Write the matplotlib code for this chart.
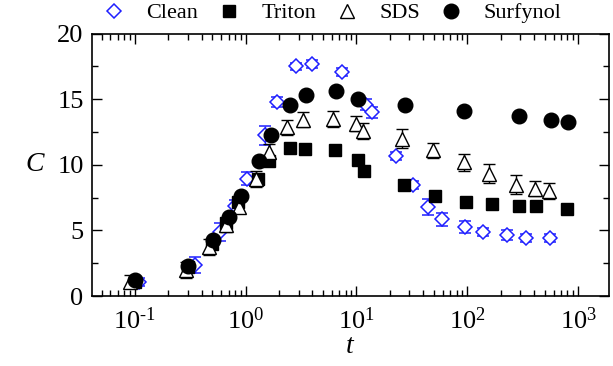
import numpy as np
import matplotlib
matplotlib.use("Agg")
import matplotlib.pyplot as plt
from matplotlib.lines import Line2D
from matplotlib.ticker import MultipleLocator, LogLocator, NullFormatter, FuncFormatter

plt.rcParams['font.family'] = ['Liberation Serif', 'DejaVu Serif']
plt.rcParams['mathtext.fontset'] = 'custom'
plt.rcParams['mathtext.rm'] = 'Liberation Serif'
plt.rcParams['mathtext.it'] = 'Liberation Serif:italic'

# Clean
t_clean = [0.11, 0.35, 0.585, 0.80, 1.02, 1.49, 1.9, 2.86, 3.96, 7.4, 12.2, 13.8,
           22.8, 32.2, 44, 59, 95, 139, 228, 337, 560]
c_clean = [1.1, 2.36, 4.9, 6.9, 8.95, 12.24, 14.8, 17.5, 17.7, 17.1, 14.6, 14.0,
           10.7, 8.5, 6.8, 5.85, 5.25, 4.9, 4.65, 4.45, 4.45]
e_clean = [0.3, 0.6, 0.7, 0.4, 0.5, 0.7, 0.4, 0.3, 0.3, 0.3, 0.4, 0.4,
           0.3, 0.3, 0.6, 0.5, 0.45, 0.3, 0.35, 0.3, 0.3]

# Triton
t_triton = [0.1, 0.3, 0.5, 0.67, 0.86, 1.29, 1.64, 2.49, 3.45, 6.43, 10.3, 11.8,
            27, 51, 98, 167, 290, 414, 800]
c_triton = [1.1, 2.2, 4.0, 5.6, 7.2, 8.95, 10.3, 11.25, 11.2, 11.1, 10.4, 9.5,
            8.5, 7.6, 7.2, 7.0, 6.9, 6.85, 6.65]

# SDS
t_sds = [0.09, 0.29, 0.47, 0.67, 0.87, 1.25, 1.62, 2.37, 3.28, 6.1, 9.8, 11.4,
         26, 49, 94, 158, 277, 405, 550]
c_sds = [1.1, 2.0, 3.75, 5.4, 6.8, 8.95, 10.97, 12.85, 13.45, 13.5, 13.15, 12.6,
         12.0, 11.1, 10.2, 9.33, 8.5, 8.2, 8.0]
e_sds = [0.5, 0.6, 0.6, 0.5, 0.5, 0.6, 0.6, 0.6, 0.6, 0.6, 0.6, 0.6,
         0.7, 0.6, 0.65, 0.7, 0.7, 0.6, 0.6]

# Surfynol
t_surf = [0.1, 0.30, 0.51, 0.70, 0.90, 1.31, 1.70, 2.49, 3.47, 6.47, 10.4, 27.6,
          94, 290, 570, 810]
c_surf = [1.2, 2.3, 4.26, 6.0, 7.63, 10.3, 12.3, 14.6, 15.3, 15.6, 15.05, 14.6,
          14.1, 13.7, 13.4, 13.25]

blue = '#1f1fff'

fig = plt.figure(figsize=(6.13, 3.66), dpi=100)
ax = fig.add_axes([0.150, 0.191, 0.8435, 0.717])

ax.errorbar(t_clean, c_clean, yerr=e_clean, fmt='D', ms=7.5, mfc='white',
            mec=blue, mew=1.1, ecolor=blue, elinewidth=1, capsize=4, zorder=2)
ax.plot(t_triton, c_triton, 's', ms=8, color='black', zorder=3)
ax.errorbar(t_sds, c_sds, yerr=e_sds, fmt='^', ms=10, mfc='white', mec='black',
            mew=1, ecolor='black', elinewidth=1, capsize=4, zorder=4)
ax.plot(t_surf, c_surf, 'o', ms=10.5, color='black', zorder=5)

ax.set_xscale('log')
ax.set_xlim(0.041, 1900)
ax.set_ylim(0, 20)
ax.yaxis.set_major_locator(MultipleLocator(5))
ax.yaxis.set_minor_locator(MultipleLocator(2.5))
ax.xaxis.set_major_locator(LogLocator(base=10, numticks=10))
ax.xaxis.set_minor_locator(LogLocator(base=10, subs=np.arange(2, 10), numticks=20))
ax.xaxis.set_minor_formatter(NullFormatter())
ax.xaxis.set_major_formatter(FuncFormatter(
    lambda v, p: r'$\mathregular{10^{\text{%d}}}$' % round(np.log10(v)) if v > 0 else ''))

ax.tick_params(which='both', direction='in', top=True, right=True, labelsize=19)
ax.tick_params(which='major', length=7, width=1)
ax.tick_params(which='minor', length=4, width=1)
ax.tick_params(axis='x', which='major', pad=8)
ax.tick_params(axis='y', which='major', pad=6)
for s in ax.spines.values():
    s.set_linewidth(1.2)

ax.set_xlabel('$t$', fontsize=20, labelpad=0)
ax.set_ylabel('$C$', fontsize=20, rotation=0, va='center')
ax.yaxis.set_label_coords(-0.11, 0.5)

handles = [
    Line2D([], [], ls='none', marker='D', ms=7.5, mfc='white', mec=blue, mew=1.1),
    Line2D([], [], ls='none', marker='s', ms=8, color='black'),
    Line2D([], [], ls='none', marker='^', ms=10, mfc='white', mec='black', mew=1),
    Line2D([], [], ls='none', marker='o', ms=10.5, color='black'),
]
labels = ['Clean', 'Triton', 'SDS', 'Surfynol']
fig.legend(handles, labels, loc='center', bbox_to_anchor=(0.540, 0.964), ncol=4,
           frameon=False, fontsize=16, handletextpad=0.84, columnspacing=0.8,
           borderaxespad=0, borderpad=0, handlelength=1.2)

plt.savefig('out.png', dpi=100)
